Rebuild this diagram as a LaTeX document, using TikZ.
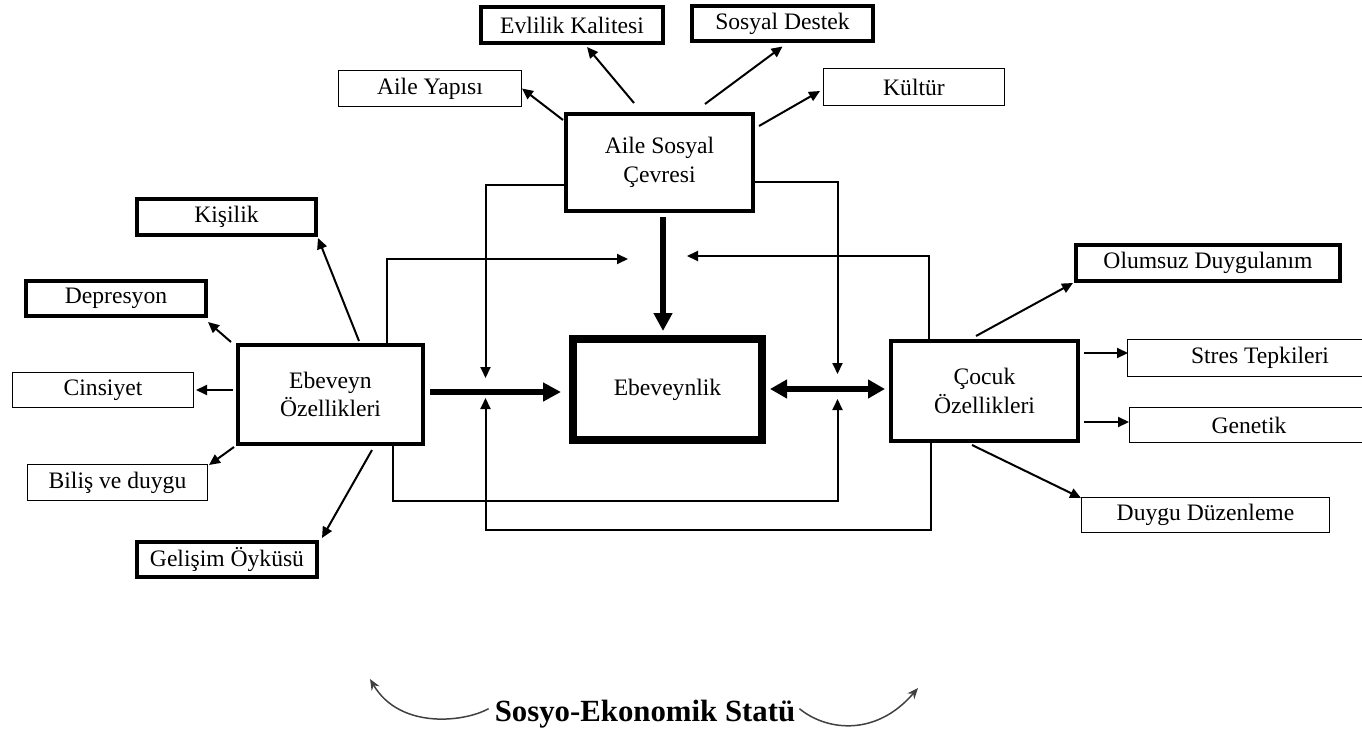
\documentclass[tikz,border=0pt]{standalone}
\usepackage{fontspec}
\setmainfont{Liberation Serif}
\usetikzlibrary{arrows.meta,calc}
\definecolor{sesgray}{HTML}{404040}

\begin{document}
\begin{tikzpicture}[x=1pt,y=-1pt,
  box/.style={draw,align=center,inner sep=0pt,font=\fontsize{23.6}{28.5}\selectfont},
  thin box/.style={box,line width=1.3pt},
  thick box/.style={box,line width=4pt},
  arr/.style={line width=2pt,-{Triangle[length=11pt,width=10pt]}},
  big arr/.style={line width=5.5pt,-{Triangle[length=18pt,width=18pt]}},
  ses arr/.style={draw=sesgray,line width=1.5pt,-{Stealth[length=11pt,width=9pt]}}]
  \useasboundingbox (0,0) rectangle (1362,735);
  \node[thick box,minimum width=182pt,minimum height=36pt] (evlilik) at (572,25) {Evlilik Kalitesi};
  \node[thick box,minimum width=181pt,minimum height=35pt] (destek) at (782.5,23.5) {Sosyal Destek};
  \node[thin box,minimum width=182.7pt,minimum height=35.7pt] (yapi) at (430,88.5) {Aile Yapısı};
  \node[thin box,minimum width=180.7pt,minimum height=36.7pt] (kultur) at (914,87) {Kültür};
  \node[thick box,minimum width=187pt,minimum height=97pt] (asc) at (659.5,162.5) {Aile Sosyal\\Çevresi};
  \node[thick box,minimum width=179pt,minimum height=36pt] (kisilik) at (226.5,217) {Kişilik};
  \node[thick box,minimum width=180pt,minimum height=35pt] (depresyon) at (116,298.5) {Depresyon};
  \node[thin box,minimum width=180.7pt,minimum height=34.7pt] (cinsiyet) at (103,390) {Cinsiyet};
  \node[thin box,minimum width=179.7pt,minimum height=35.7pt] (bilis) at (117.5,482.5) {Biliş ve duygu};
  \node[thick box,minimum width=180pt,minimum height=35pt] (gelisim) at (227,559.5) {Gelişim Öyküsü};
  \node[thick box,minimum width=185pt,minimum height=99pt] (ebeveyn) at (330.5,394.5) {Ebeveyn\\Özellikleri};
  \node[box,line width=8pt,minimum width=189pt,minimum height=101pt] (ebeveynlik) at (667.5,389.5) {Ebeveynlik};
  \node[thick box,minimum width=187pt,minimum height=100pt] (cocuk) at (984.5,391) {Çocuk\\Özellikleri};
  \node[thick box,minimum width=264pt,minimum height=36pt] (olumsuz) at (1208,263) {Olumsuz Duygulanım};
  \node[thin box,minimum width=264.7pt,minimum height=36.7pt] (stres) at (1260,358) {Stres Tepkileri};
  \node[thin box,minimum width=238.7pt,minimum height=34.7pt] (genetik) at (1249,425) {Genetik};
  \node[thin box,minimum width=247.7pt,minimum height=34.7pt] (duygu) at (1205.5,515) {Duygu Düzenleme};
  \node[font=\bfseries\fontsize{30.8}{36}\selectfont,inner sep=0pt,anchor=base] (ses) at (645,721) {Sosyo-Ekonomik Statü};
  \coordinate (jl) at (485.5,391);
  \coordinate (jr) at (837.5,389);
  \coordinate (jt) at (657.5,257.5);
  \coordinate (sesl) at (370,679);
  \coordinate (sesr) at (918,688);
  \begin{scope}[every edge/.style={draw,arr}]
  \path ($(asc.north west)+(-1,8)$) edge (yapi.east);
  \path ($(asc.north)+(-25.5,-9)$) edge ($(evlilik.south)+(15,2)$);
  \path ($(asc.north)+(45.5,-8)$) edge ($(destek.south)+(0,3.5)$);
  \path ($(asc.north east)+(4,14)$) edge ($(kultur.west)+(-3,4)$);
  \path ($(ebeveyn.north)+(28.5,-2)$) edge ($(kisilik.south east)+(0,1)$);
  \path ($(ebeveyn.north west)+(-5,-1)$) edge ($(depresyon.south east)+(0,4)$);
  \path ($(ebeveyn.west)+(-3,-4.5)$) edge ($(cinsiyet.east)+(2,0)$);
  \path ($(ebeveyn.south west)+(-2,1)$) edge ($(bilis.north east)+(1,1)$);
  \path ($(ebeveyn.south)+(41.5,4)$) edge ($(gelisim.north east)+(3,-2)$);
  \path ($(cocuk.north)+(-8.5,-3)$) edge ($(olumsuz.south west)+(-1,0)$);
  \path ($(cocuk.north east)+(4,14)$) edge ($(stres.west)+(1,-5)$);
  \path ($(cocuk.east)+(4,31)$) edge ($(genetik.west)+(0,-3)$);
  \path ($(cocuk.south)+(-12.5,2)$) edge ($(duygu.north west)+(0,1)$);
  \end{scope}
  \draw[arr] ($(ebeveyn.north)+(56.5,0)$) |- ($(jt)+(-29.5,1.5)$);
  \draw[arr] ($(cocuk.north)+(-55.5,0)$) |- ($(jt)+(29.5,-1.5)$);
  \draw[arr] ($(asc.south west)+(0,-28)$) -| ($(jl)+(0,-13)$);
  \draw[arr] ($(asc.south east)+(0,-31)$) -| ($(jr)+(0,-15)$);
  \draw[arr] ($(cocuk.south)+(-53.5,0)$) |- ($(jl)+(0,139)$) -- ($(jl)+(0,7)$);
  \draw[arr] ($(ebeveyn.south)+(62.5,0)$) |- ($(jr)+(0,112)$) -- ($(jr)+(0,10)$);
  \draw[big arr] ($(ebeveyn.east)+(5,-2.5)$) -- ($(ebeveynlik.west)+(-8,2.5)$);
  \draw[big arr] ($(asc.south)+(3.5,4)$) -- ($(ebeveynlik.north)+(-4.5,-4)$);
  \draw[big arr,{Triangle[length=17pt,width=18pt]}-{Triangle[length=17pt,width=18pt]}] ($(ebeveynlik.east)+(4,-0.5)$) -- ($(cocuk.west)+(-4,-2)$);
  \draw[ses arr] ($(ses.west)+(-6,-5)$) .. controls (465,722) and (400,730) .. (sesl);
  \draw[ses arr] ($(ses.east)+(4,-5)$) .. controls (825,730) and (875,738) .. (sesr);
\end{tikzpicture}
\end{document}
